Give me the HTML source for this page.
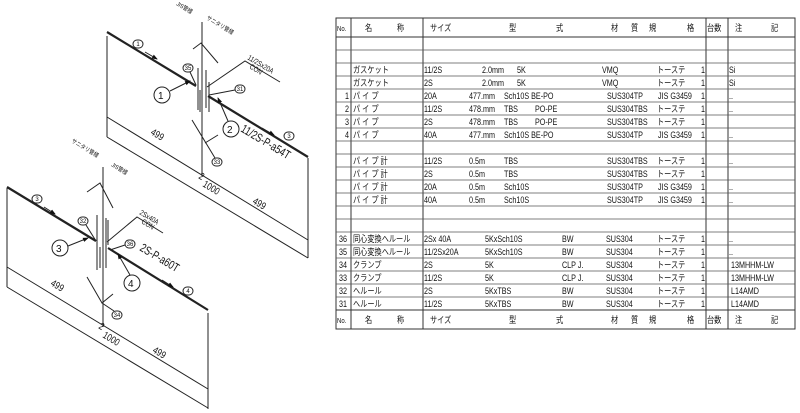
<!DOCTYPE html>
<html><head><meta charset="utf-8"><style>
html,body{margin:0;padding:0;background:#fff;}
svg{display:block;}
text{font-family:"Liberation Sans","Noto Sans CJK JP",sans-serif;fill:#111;}
.t{font-size:9px;}
.t text{transform-box:fill-box;transform-origin:0 0;transform:scaleX(0.8);}
.s{font-size:6px;}
</style></head><body>
<svg width="800" height="413" viewBox="0 0 800 413" xmlns="http://www.w3.org/2000/svg">
<defs>
<marker id="ar" markerWidth="6" markerHeight="6" refX="5" refY="3" orient="auto" markerUnits="userSpaceOnUse"><path d="M0,0.8 L6,3 L0,5.2z" fill="#111"/></marker>
</defs>
<g stroke="#222" fill="none" stroke-width="1">
<line x1="107" y1="32" x2="196" y2="86" stroke-width="2.2"/>
<line x1="208" y1="96" x2="308" y2="157" stroke-width="2.2"/>
<line x1="107" y1="36" x2="107" y2="137"/>
<line x1="308" y1="158" x2="308" y2="258"/>
<line x1="107" y1="117" x2="308" y2="240"/>
<line x1="107" y1="137" x2="308" y2="258"/>
<line x1="202" y1="22" x2="202" y2="176"/>
<line x1="198" y1="68" x2="198" y2="110"/>
<line x1="200" y1="90" x2="200" y2="112"/>
<line x1="206" y1="70" x2="206" y2="108"/>
<line x1="209" y1="82" x2="209" y2="112"/>
<polyline points="193,49 201,43 218,63"/>
<line x1="192" y1="120" x2="215" y2="158"/>
<line x1="205" y1="143" x2="218" y2="135"/>
<polyline points="207,87 245,61 280,82"/>
<line x1="196" y1="85" x2="190" y2="72"/>
<line x1="209" y1="95" x2="235" y2="90"/>
<line x1="170" y1="91" x2="190" y2="81" marker-end="url(#ar)"/>
<line x1="228" y1="121" x2="218" y2="98" marker-end="url(#ar)"/>
<line x1="145" y1="52" x2="157" y2="59" marker-end="url(#ar)"/>
<line x1="262" y1="128" x2="274" y2="135" marker-end="url(#ar)"/>
<circle cx="162" cy="95" r="8"/>
<circle cx="231" cy="129" r="8"/>
<rect x="183" y="64" width="10" height="8" rx="4"/>
<rect x="235" y="85" width="10" height="8" rx="4"/>
<rect x="212" y="158" width="10" height="8" rx="4"/>
<rect x="133" y="40" width="10" height="8" rx="4"/>
<rect x="284" y="132" width="10" height="8" rx="4"/>
<line x1="7" y1="187" x2="96" y2="241" stroke-width="2.2"/>
<line x1="108" y1="248" x2="208" y2="310" stroke-width="2.2"/>
<line x1="7" y1="188" x2="7" y2="287"/>
<line x1="208" y1="313" x2="208" y2="409"/>
<line x1="7" y1="267" x2="208" y2="389"/>
<line x1="7" y1="287" x2="208" y2="408"/>
<line x1="103" y1="167" x2="103" y2="327"/>
<line x1="97" y1="215" x2="97" y2="270"/>
<line x1="100" y1="247" x2="100" y2="268"/>
<line x1="106" y1="218" x2="106" y2="268"/>
<line x1="108" y1="220" x2="108" y2="245"/>
<polyline points="87,192 100,183 113,208"/>
<polyline points="87,277 102,303 113,294"/>
<line x1="102" y1="303" x2="114" y2="311"/>
<polyline points="107,242 137,217 163,233"/>
<line x1="96" y1="241" x2="86" y2="225"/>
<line x1="110" y1="250" x2="125" y2="245"/>
<line x1="68" y1="246" x2="88" y2="238" marker-end="url(#ar)"/>
<line x1="130" y1="275" x2="118" y2="254" marker-end="url(#ar)"/>
<line x1="44" y1="207" x2="55" y2="214" marker-end="url(#ar)"/>
<line x1="162" y1="280" x2="173" y2="287" marker-end="url(#ar)"/>
<circle cx="60" cy="248" r="8"/>
<circle cx="132" cy="283" r="8"/>
<rect x="78" y="217" width="10" height="8" rx="4"/>
<rect x="125" y="240" width="10" height="8" rx="4"/>
<rect x="112" y="311" width="10" height="8" rx="4"/>
<rect x="32" y="195" width="10" height="8" rx="4"/>
<rect x="183" y="287" width="10" height="8" rx="4"/>
</g>
<g font-size="10">
<text x="158" y="99">1</text><text x="227" y="133">2</text>
<text x="56" y="252">3</text><text x="128" y="287">4</text>
</g>
<g class="s" text-anchor="middle">
<text x="188" y="70">35</text><text x="240" y="91">31</text><text x="217" y="164">33</text>
<text x="138" y="46">1</text><text x="289" y="138">3</text>
<text x="83" y="223">32</text><text x="130" y="246">36</text><text x="117" y="317">34</text>
<text x="37" y="201">3</text><text x="188" y="293">4</text>
</g>
<g font-size="12">
<text transform="translate(240,131) rotate(31) scale(0.75,1)">11/2S-P-a54T</text>
<text transform="translate(139,250) rotate(31) scale(0.75,1)">2S-P-a60T</text>
</g>
<g font-size="10">
<text transform="translate(150,134) rotate(31) scale(0.8,1)">499</text>
<text transform="translate(198,178) rotate(31) scale(0.8,1)">2</text>
<text transform="translate(202,186) rotate(31) scale(0.8,1)">1000</text>
<text transform="translate(252,203) rotate(31) scale(0.8,1)">499</text>
<text transform="translate(50,285) rotate(31) scale(0.8,1)">499</text>
<text transform="translate(98,328) rotate(31) scale(0.8,1)">2</text>
<text transform="translate(102,337) rotate(31) scale(0.8,1)">1000</text>
<text transform="translate(152,352) rotate(31) scale(0.8,1)">499</text>
</g>
<g font-size="7.5">
<text transform="translate(247,59) rotate(31) scale(0.8,1)">11/2Sx20A</text>
<text transform="translate(249,68) rotate(31) scale(0.8,1)">CON</text>
<text transform="translate(139,214) rotate(31) scale(0.8,1)">2Sx40A</text>
<text transform="translate(141,223) rotate(31) scale(0.8,1)">CON</text>
</g>
<g font-size="6">
<text transform="translate(176,5) rotate(31) scale(0.85,1)">JIS管様</text>
<text transform="translate(206,19) rotate(31) scale(0.85,1)">サニタリ管様</text>
<text transform="translate(71,142) rotate(31) scale(0.85,1)">サニタリ管様</text>
<text transform="translate(111,166) rotate(31) scale(0.85,1)">JIS管様</text>
</g>
<g stroke="#333" fill="none" stroke-width="1">
<rect x="336" y="18" width="459" height="311"/>
<line x1="336" y1="37" x2="795" y2="37"/>
<line x1="336" y1="310" x2="795" y2="310"/>
<line x1="351" y1="18" x2="351" y2="329"/>
<line x1="423" y1="18" x2="423" y2="329"/>
<line x1="706" y1="18" x2="706" y2="329"/>
<line x1="728" y1="18" x2="728" y2="329"/>
</g>
<g stroke="#555" stroke-width="0.7">
<line x1="336" y1="50" x2="795" y2="50"/><line x1="336" y1="63" x2="795" y2="63"/>
<line x1="336" y1="76" x2="795" y2="76"/><line x1="336" y1="89" x2="795" y2="89"/>
<line x1="336" y1="102" x2="795" y2="102"/><line x1="336" y1="115" x2="795" y2="115"/>
<line x1="336" y1="128" x2="795" y2="128"/><line x1="336" y1="141" x2="795" y2="141"/>
<line x1="336" y1="154" x2="795" y2="154"/><line x1="336" y1="167" x2="795" y2="167"/>
<line x1="336" y1="180" x2="795" y2="180"/><line x1="336" y1="193" x2="795" y2="193"/>
<line x1="336" y1="206" x2="795" y2="206"/><line x1="336" y1="219" x2="795" y2="219"/>
<line x1="336" y1="232" x2="795" y2="232"/><line x1="336" y1="245" x2="795" y2="245"/>
<line x1="336" y1="258" x2="795" y2="258"/><line x1="336" y1="271" x2="795" y2="271"/>
<line x1="336" y1="284" x2="795" y2="284"/><line x1="336" y1="297" x2="795" y2="297"/>
</g>
<g class="t" font-size="9.5">
<text x="337" y="31" font-size="7.5">No.</text><text x="365" y="31">名</text><text x="397" y="31">称</text>
<text x="430" y="31">サイズ</text><text x="509" y="31">型</text><text x="556" y="31">式</text>
<text x="611" y="31">材</text><text x="631" y="31">質</text><text x="649" y="31">規</text><text x="687" y="31">格</text>
<text x="707" y="31" font-size="9">台数</text><text x="735" y="31">注</text><text x="771" y="31">記</text>
<text x="337" y="323" font-size="7.5">No.</text><text x="365" y="323">名</text><text x="397" y="323">称</text>
<text x="430" y="323">サイズ</text><text x="509" y="323">型</text><text x="556" y="323">式</text>
<text x="611" y="323">材</text><text x="631" y="323">質</text><text x="649" y="323">規</text><text x="687" y="323">格</text>
<text x="707" y="323" font-size="9">台数</text><text x="735" y="323">注</text><text x="771" y="323">記</text>
</g>
<g class="t">
<text x="353" y="73">ガスケット</text><text x="424" y="73">11/2S</text><text x="482" y="73">2.0mm</text><text x="517" y="73">5K</text><text x="602" y="73">VMQ</text><text x="657" y="73">トーステ</text><text x="701" y="73">1</text><text x="729" y="73">Si</text>
<text x="353" y="86">ガスケット</text><text x="424" y="86">2S</text><text x="482" y="86">2.0mm</text><text x="517" y="86">5K</text><text x="602" y="86">VMQ</text><text x="657" y="86">トーステ</text><text x="701" y="86">1</text><text x="729" y="86">Si</text>
<text x="345" y="99">1</text><text x="353" y="99">パ イ プ</text><text x="424" y="99">20A</text><text x="469" y="99">477.mm</text><text x="504" y="99">Sch10S BE-PO</text><text x="607" y="99">SUS304TP</text><text x="658" y="99">JIS G3459</text><text x="701" y="99">1</text><text x="729" y="99">..</text>
<text x="345" y="112">2</text><text x="353" y="112">パ イ プ</text><text x="424" y="112">11/2S</text><text x="469" y="112">478.mm</text><text x="504" y="112">TBS</text><text x="535" y="112">PO-PE</text><text x="607" y="112">SUS304TBS</text><text x="657" y="112">トーステ</text><text x="701" y="112">1</text><text x="729" y="112">..</text>
<text x="345" y="125">3</text><text x="353" y="125">パ イ プ</text><text x="424" y="125">2S</text><text x="469" y="125">478.mm</text><text x="504" y="125">TBS</text><text x="535" y="125">PO-PE</text><text x="607" y="125">SUS304TBS</text><text x="657" y="125">トーステ</text><text x="701" y="125">1</text>
<text x="345" y="138">4</text><text x="353" y="138">パ イ プ</text><text x="424" y="138">40A</text><text x="469" y="138">477.mm</text><text x="504" y="138">Sch10S BE-PO</text><text x="607" y="138">SUS304TP</text><text x="658" y="138">JIS G3459</text><text x="701" y="138">1</text><text x="729" y="138">..</text>
<text x="353" y="164">パ イ プ 計</text><text x="424" y="164">11/2S</text><text x="469" y="164">0.5m</text><text x="504" y="164">TBS</text><text x="607" y="164">SUS304TBS</text><text x="657" y="164">トーステ</text><text x="701" y="164">1</text><text x="729" y="164">..</text>
<text x="353" y="177">パ イ プ 計</text><text x="424" y="177">2S</text><text x="469" y="177">0.5m</text><text x="504" y="177">TBS</text><text x="607" y="177">SUS304TBS</text><text x="657" y="177">トーステ</text><text x="701" y="177">1</text>
<text x="353" y="190">パ イ プ 計</text><text x="424" y="190">20A</text><text x="469" y="190">0.5m</text><text x="504" y="190">Sch10S</text><text x="607" y="190">SUS304TP</text><text x="658" y="190">JIS G3459</text><text x="701" y="190">1</text><text x="729" y="190">..</text>
<text x="353" y="203">パ イ プ 計</text><text x="424" y="203">40A</text><text x="469" y="203">0.5m</text><text x="504" y="203">Sch10S</text><text x="607" y="203">SUS304TP</text><text x="658" y="203">JIS G3459</text><text x="701" y="203">1</text><text x="729" y="203">..</text>
<text x="339" y="242">36</text><text x="353" y="242">同心変換ヘルール</text><text x="424" y="242">2Sx    40A</text><text x="485" y="242">5KxSch10S</text><text x="562" y="242">BW</text><text x="606" y="242">SUS304</text><text x="657" y="242">トーステ</text><text x="701" y="242">1</text><text x="729" y="242">..</text>
<text x="339" y="255">35</text><text x="353" y="255">同心変換ヘルール</text><text x="424" y="255">11/2Sx20A</text><text x="485" y="255">5KxSch10S</text><text x="562" y="255">BW</text><text x="606" y="255">SUS304</text><text x="657" y="255">トーステ</text><text x="701" y="255">1</text><text x="729" y="255">..</text>
<text x="339" y="268">34</text><text x="353" y="268">クランプ</text><text x="424" y="268">2S</text><text x="485" y="268">5K</text><text x="562" y="268">CLP J.</text><text x="606" y="268">SUS304</text><text x="657" y="268">トーステ</text><text x="701" y="268">1</text><text x="731" y="268">13MHHM-LW</text>
<text x="339" y="281">33</text><text x="353" y="281">クランプ</text><text x="424" y="281">11/2S</text><text x="485" y="281">5K</text><text x="562" y="281">CLP J.</text><text x="606" y="281">SUS304</text><text x="657" y="281">トーステ</text><text x="701" y="281">1</text><text x="731" y="281">13MHHM-LW</text>
<text x="339" y="294">32</text><text x="353" y="294">ヘルール</text><text x="424" y="294">2S</text><text x="485" y="294">5KxTBS</text><text x="562" y="294">BW</text><text x="606" y="294">SUS304</text><text x="657" y="294">トーステ</text><text x="701" y="294">1</text><text x="731" y="294">L14AMD</text>
<text x="339" y="307">31</text><text x="353" y="307">ヘルール</text><text x="424" y="307">11/2S</text><text x="485" y="307">5KxTBS</text><text x="562" y="307">BW</text><text x="606" y="307">SUS304</text><text x="657" y="307">トーステ</text><text x="701" y="307">1</text><text x="731" y="307">L14AMD</text>
</g>
</svg>
</body></html>
